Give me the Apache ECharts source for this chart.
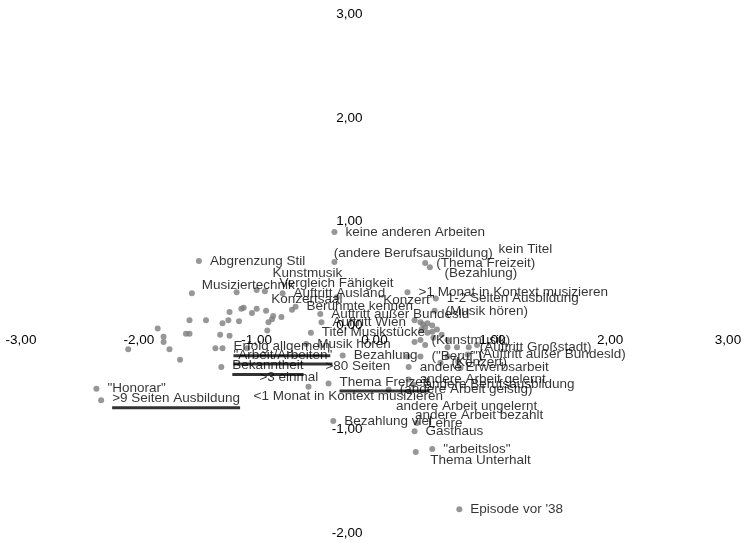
<!DOCTYPE html>
<html>
<head>
<meta charset="utf-8">
<script src="https://cdn.jsdelivr.net/npm/echarts@6/dist/echarts.min.js"></script>
<style>
  html, body { margin: 0; background: #fff; }
  #chart { width: 744px; height: 543px; }
</style>
</head>
<body>
<div id="chart"></div>
<script>
// Achsen (Dimension 1 / Dimension 2)
var ticksX = [-3, -2, -1, 0, 1, 2, 3];
var ticksY = [-2, -1, 0, 1, 2, 3];

// Punkte mit Beschriftung rechts daneben: [x, y, Name]
var beschriftetePunkte = [
  [-2.36, -0.61, '"Honorar"'],
  [-2.32, -0.72, '>9 Seiten Ausbildung'],
  [-1.49, 0.62, 'Abgrenzung Stil'],
  [-1.29, -0.22, 'Erfolg allgemein'],
  [-1.30, -0.40, 'Bekanntheit'],
  [-0.34, 0.90, 'keine anderen Arbeiten'],
  [-0.78, 0.31, 'Auftritt Ausland'],
  [-0.67, 0.18, 'Berühmte kennen'],
  [-0.46, 0.11, 'Auftritt außer Bundesld'],
  [-0.45, 0.03, 'Auftritt Wien'],
  [-0.54, -0.07, 'Titel Musikstücke'],
  [-0.58, -0.18, 'Musik hören'],
  [-0.27, -0.29, 'Bezahlung'],
  [-0.39, -0.56, 'Thema Freizeit'],
  [-0.35, -0.92, 'Bezahlung viel'],
  [0.36, -0.94, 'Lehre'],
  [0.34, -1.02, 'Gasthaus'],
  [0.49, -1.19, '"arbeitslos"'],
  [0.72, -1.77, "Episode vor '38"],
  [0.28, 0.32, '>1 Monat in Kontext musizieren'],
  [0.52, 0.26, '1-2 Seiten Ausbildung'],
  [0.51, 0.14, '(Musik hören)'],
  [0.43, 0.60, '(Thema Freizeit)'],
  [0.39, -0.14, '(Kunstmusik)'],
  [0.80, -0.21, '(Auftritt Großstadt)'],
  [0.79, -0.28, '(Auftritt außer Bundesld)'],
  [0.39, -0.30, '("Beruf")'],
  [0.56, -0.36, '(Konzert)'],
  [0.29, -0.40, 'andere Erwerbsarbeit'],
  [0.29, -0.52, 'andere Arbeit gelernt'],
  [0.33, -0.57, 'andere Berufsausbildung'],
  [0.12, -0.62, '(andere Arbeit geistig)']
];

// Beschriftungen, deren Punkt im Gewühl verdeckt ist
var freieBeschriftungen = [
  [-1.56, 0.39, 'Musiziertechnik'],
  [-0.96, 0.50, 'Kunstmusik'],
  [-0.90, 0.41, 'Vergleich Fähigkeit'],
  [-0.97, 0.25, 'Konzertsaal'],
  [-0.06, 0.24, '"Konzert"'],
  [-0.44, 0.69, '(andere Berufsausbildung)'],
  [0.96, 0.73, 'kein Titel'],
  [0.50, 0.50, '(Bezahlung)'],
  [-1.29, -0.30, '"Arbeit/Arbeiten"'],
  [-1.07, -0.50, '>3 einmal'],
  [-1.12, -0.68, '<1 Monat in Kontext musizieren'],
  [-0.51, -0.39, '>80 Seiten'],
  [0.09, -0.78, 'andere Arbeit ungelernt'],
  [0.25, -0.87, 'andere Arbeit bezahlt'],
  [0.38, -1.30, 'Thema Unterhalt']
];

// Punkte ohne Beschriftung
var weiterePunkte = [
  [-2.09, -0.23], [-1.84, -0.03], [-1.79, -0.11], [-1.79, -0.16], [-1.74, -0.23],
  [-1.65, -0.33], [-1.60, -0.08], [-1.57, -0.08], [-1.57, 0.05], [-1.55, 0.31],
  [-1.43, 0.05], [-1.35, -0.22], [-1.31, -0.09], [-1.29, 0.02], [-1.24, 0.05],
  [-1.23, -0.10], [-1.23, 0.13], [-1.17, 0.32], [-1.15, 0.04], [-1.13, 0.16],
  [-1.11, 0.17], [-1.08, -0.22], [-1.04, 0.12], [-1.00, 0.16], [-1.00, 0.34],
  [-0.93, 0.33], [-0.92, 0.14], [-0.91, -0.05], [-0.90, 0.03], [-0.87, 0.06],
  [-0.86, 0.09], [-0.79, 0.08], [-0.70, 0.15], [-0.34, 0.61], [-0.32, 0.27],
  [-0.56, -0.59], [0.47, 0.56], [0.35, -1.22],
  [0.34, 0.05], [0.39, 0.03], [0.41, 0.01], [0.43, -0.02], [0.45, 0.02],
  [0.49, 0.00], [0.40, -0.04], [0.45, -0.07], [0.49, -0.06], [0.53, -0.04],
  [0.57, -0.09], [0.50, -0.12], [0.62, -0.14], [0.34, -0.16], [0.43, -0.19],
  [0.62, -0.21], [0.70, -0.21], [0.87, -0.19], [0.28, -0.30], [0.62, -0.30],
  [0.71, -0.35], [0.73, -0.41]
];

// unterstrichene Kategorien
var unterstrichen = ['>9 Seiten Ausbildung', 'Erfolg allgemein', '"Arbeit/Arbeiten"', 'Bekanntheit', 'Thema Freizeit'];

var schrift = '"Liberation Sans", Arial, sans-serif';
var punktFarbe = '#7d7d7d';

// Zeichenfläche
var breite = 744, hoehe = 543;
var rand = { left: 21, right: 16, top: 14, bottom: 10 };
var minX = ticksX[0], maxX = ticksX[ticksX.length - 1];
var minY = ticksY[0], maxY = ticksY[ticksY.length - 1];
// Achsen sollen sich im Nullpunkt kreuzen -> Versatz von der Standardlage
var versatzY = -(breite - rand.left - rand.right) * (0 - minX) / (maxX - minX);
var versatzX = -(hoehe - rand.top - rand.bottom) * (0 - minY) / (maxY - minY);

function zahl(v) {
  return v.toFixed(2).replace('.', ',');
}

function beschriftung(p) {
  var name = p.data[2];
  if (unterstrichen.indexOf(name) >= 0) {
    return '{t|' + name + '}\n{u|}';
  }
  return '{t|' + name + '}';
}

var labelStil = {
  show: true,
  position: 'right',
  distance: 8,
  color: '#000',
  fontSize: 13.5,
  fontFamily: schrift,
  formatter: beschriftung,
  rich: {
    t: { fontSize: 13.5, lineHeight: 15, color: '#000', fontFamily: schrift },
    u: { width: '100%', height: 3, lineHeight: 3, backgroundColor: '#000' }
  }
};

var chart = echarts.init(document.getElementById('chart'));
chart.setOption({
  animation: false,
  backgroundColor: '#fff',
  grid: {
    left: rand.left, right: rand.right, top: rand.top, bottom: rand.bottom,
    containLabel: false,
    outerBoundsMode: 'none'
  },
  xAxis: {
    type: 'value',
    min: minX,
    max: maxX,
    interval: 1,
    position: 'bottom',
    offset: versatzX,
    axisLine: { show: false, onZero: false },
    axisTick: { show: false },
    splitLine: { show: false },
    axisLabel: { formatter: zahl, color: '#000', fontSize: 13.5, fontFamily: schrift, margin: 8 }
  },
  yAxis: {
    type: 'value',
    min: minY,
    max: maxY,
    interval: 1,
    position: 'left',
    offset: versatzY,
    axisLine: { show: false, onZero: false },
    axisTick: { show: false },
    splitLine: { show: false },
    axisLabel: { formatter: zahl, color: '#000', fontSize: 13.5, fontFamily: schrift, margin: 12 }
  },
  series: [
    {
      type: 'scatter',
      symbolSize: 6,
      itemStyle: { color: punktFarbe },
      data: weiterePunkte,
      z: 2
    },
    {
      type: 'scatter',
      symbolSize: 6,
      itemStyle: { color: punktFarbe },
      label: labelStil,
      data: beschriftetePunkte,
      z: 3
    },
    {
      type: 'scatter',
      symbolSize: 6,
      itemStyle: { color: 'rgba(0,0,0,0)' },
      label: labelStil,
      data: freieBeschriftungen,
      z: 3
    }
  ]
});
</script>
</body>
</html>
